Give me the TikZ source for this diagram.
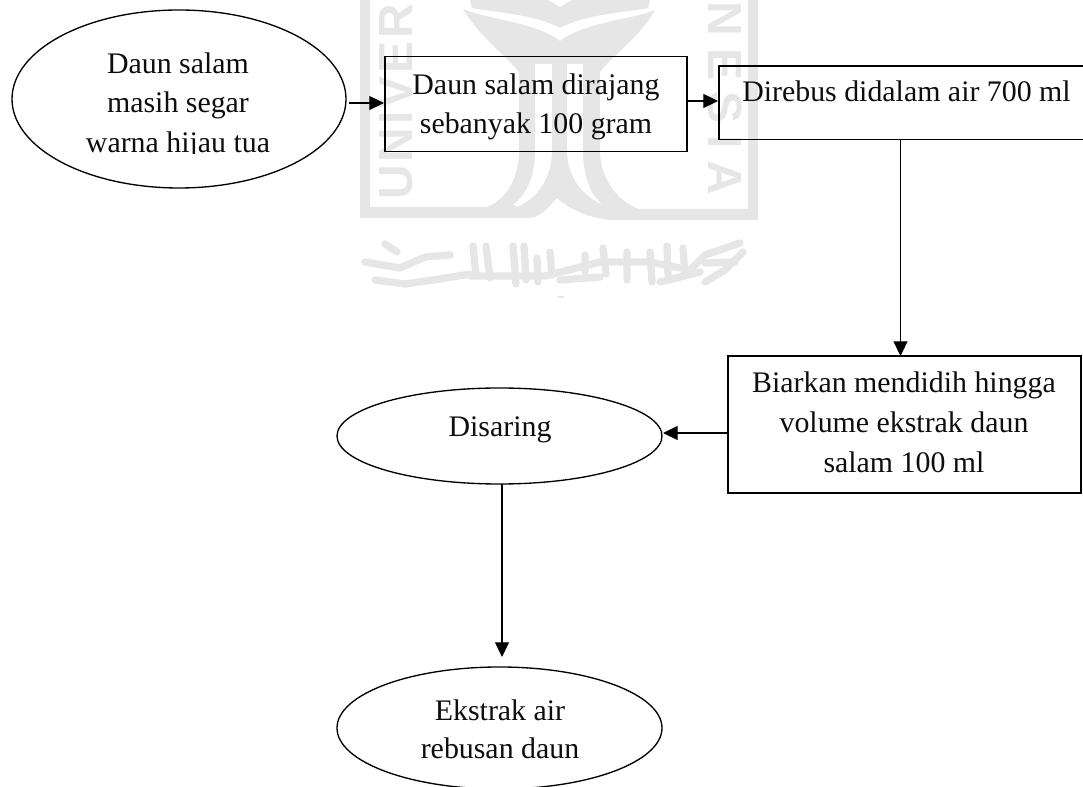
\documentclass[tikz,border=0pt]{standalone}
\usepackage{fontspec}
\setmainfont{Liberation Serif}
\newfontfamily\wmfont{Liberation Sans Bold}
\usetikzlibrary{shapes.geometric,arrows.meta,calc}
\definecolor{wm}{HTML}{E6E6E6}
\tikzset{
  x=0.75pt,y=-0.75pt,
  sized/.style 2 args={minimum width=#1*0.75pt,minimum height=#2*0.75pt,inner sep=0pt,outer sep=0pt},
  box/.style={draw=black,line width=1pt,rectangle},
  oval/.style={draw=black,line width=1pt,ellipse},
  label text/.style={font=\fontsize{22.4pt}{29.2pt}\selectfont,align=center,text=black!95,inner sep=0pt,outer sep=0pt},
  link/.style={draw=black,line width=0.8pt,-{Triangle[length=11pt,width=10.5pt]}},
  wmtext/.style={text=wm,inner sep=0pt,outer sep=0pt},
  wmstroke/.style={draw=wm,line width=5.5pt,line join=round,line cap=round},
}
\begin{document}
\begin{tikzpicture}
\clip (0,0) rectangle (1083,787);
% watermark: frame
\fill[wm] (360,0) rectangle (370,218);
\fill[wm] (748,0) rectangle (758,220);
% watermark: lettering
\node[wmtext,rotate=90,anchor=base west,font=\wmfont\fontsize{36pt}{36pt}\selectfont\addfontfeature{LetterSpace=6}] (wmleft) at (412,200) {UNIVER};
\node[wmtext,rotate=-90,anchor=base west,font=\wmfont\fontsize{36pt}{36pt}\selectfont\addfontfeature{LetterSpace=24}] (wmright) at (708,2) {NESIA};
% watermark: emblem
\fill[wm] (470,0) -- (472,8) .. controls (490,12) and (535,14) .. (560,28)
  .. controls (585,14) and (630,12) .. (648,8) -- (650,0) -- (572,0) -- (560,7) -- (548,0) -- cycle;
\fill[wm] (463,9) .. controls (490,20) and (535,22) .. (560,41)
  .. controls (585,22) and (630,20) .. (655,10)
  .. controls (640,37) and (615,53) .. (600,72) -- (600,64) -- (519,64) -- (519,72)
  .. controls (503,53) and (480,37) .. (463,9) -- cycle;
\fill[wm] (360,207) -- (487,207) .. controls (505,200) and (519,180) .. (519,150) -- (519,64) -- (535,64)
  -- (535,150) .. controls (535,180) and (525,195) .. (513,205) -- (517,207)
  .. controls (535,200) and (552,180) .. (552,150) -- (552,64) -- (567,64)
  -- (567,150) .. controls (567,180) and (585,197) .. (603,205)
  .. controls (590,195) and (583,175) .. (583,150) -- (583,64) -- (600,64)
  -- (600,150) .. controls (600,183) and (623,205) .. (640,209) -- (758,209) -- (758,220)
  -- (610,220) .. controls (590,218) and (570,210) .. (557,198)
  .. controls (548,208) and (540,218) .. (528,218) -- (360,218) -- cycle;
% watermark: calligraphy
\draw[wmstroke] (365,262) -- (400,268) -- (425,257) -- (450,255) (385,244) -- (397,252);
\draw[wmstroke] (375,280) -- (405,284) -- (440,279) -- (470,274);
\draw[wmstroke] (473,246) -- (476,275) (486,246) -- (490,278) (513,246) -- (516,284) (524,246) -- (526,280) (537,258) -- (538,282);
\draw[wmstroke] (470,276) -- (545,276) -- (600,262) -- (650,262) -- (680,268);
\draw[wmstroke] (550,252) -- (552,275) (585,255) -- (585,272) (603,248) -- (606,274) (627,252) -- (627,280) (650,252) -- (652,282) (667,246) -- (668,275) (683,248) -- (685,275);
\draw[wmstroke] (560,280) -- (600,277) (660,282) -- (700,272);
\draw[wmstroke] (690,270) -- (705,255) -- (740,243) (705,282) -- (725,270) -- (743,252) (705,263) -- (735,262);
\fill[wm] (558,296) rectangle (564,298);
% shapes
\node[oval,sized={334}{178}] (e1) at (179,99) {};
\node[box,sized={302}{95}] (r1) at (536,104.2) {};
\node[box,sized={481}{73.3}] (r2) at (959.5,102.6) {};
\node[box,sized={353}{137}] (r3) at (904.5,424.5) {};
\node[oval,sized={325}{96}] (e2) at (499.5,436) {};
\node[oval,sized={325}{122}] (e3) at (499.5,728) {};
% texts
\begin{scope}
\clip (0,0) rectangle (340,154);
\node[label text,anchor=base] (t1) at (178,74) {Daun salam};
\node[label text,anchor=base] (t1b) at (178,113) {masih segar};
\node[label text,anchor=base] (t1c) at (178,152.5) {warna hijau tua};
\end{scope}
\node[label text,anchor=base] (t2) at (536,95) {Daun salam dirajang};
\node[label text,anchor=base] (t2b) at (536,133.5) {sebanyak 100 gram};
\node[label text,anchor=base] (t3) at (906.5,102) {Direbus didalam air 700 ml};
\node[label text,anchor=base] (t4) at (904,393) {Biarkan mendidih hingga};
\node[label text,anchor=base] (t4b) at (904,433) {volume ekstrak daun};
\node[label text,anchor=base] (t4c) at (904,473) {salam 100 ml};
\node[label text,anchor=base] (t5) at (500,437) {Disaring};
\node[label text,anchor=base] (t6) at (500,721) {Ekstrak air};
\node[label text,anchor=base] (t6b) at (500,759) {rebusan daun};
% connectors
\draw[link] ([shift={(3,4)}]e1.east) -- ([shift={(-1,-1.2)}]r1.west);
\draw[link] ([shift={(1,-3.2)}]r1.east) -- ([shift={(-1,-1.6)}]r2.west);
\draw[link] ([shift={(-59,0)}]r2.south) -- ([shift={(-4,0)}]r3.north);
\draw[link] ([shift={(0,8.5)}]r3.west) -- ([shift={(1,-3)}]e2.east);
\draw[link] ([shift={(2.5,0)}]e2.south) -- ([shift={(2.5,-10)}]e3.north);
\end{tikzpicture}
\end{document}
